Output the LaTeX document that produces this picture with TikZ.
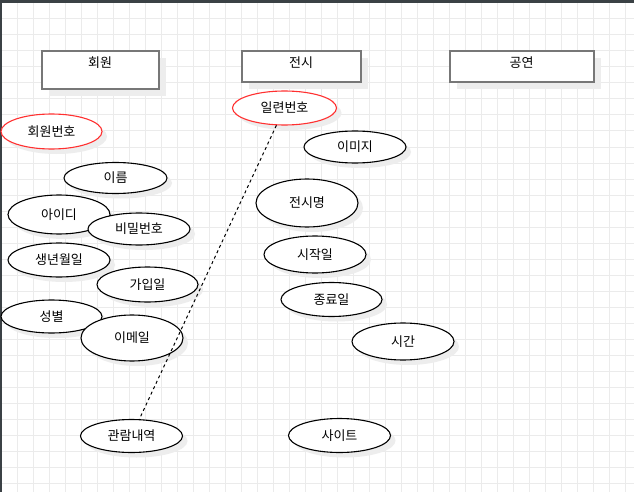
\documentclass[tikz,border=0pt]{standalone}
\usepackage{fontspec}
\setmainfont{Noto Sans CJK KR}
\usepackage{tikz}
\usetikzlibrary{shapes.geometric,shadows}

\definecolor{gridgray}{HTML}{EBEBEB}
\definecolor{shadegray}{HTML}{EDEDED}
\definecolor{boxgray}{HTML}{777777}
\definecolor{keyred}{HTML}{FF3030}
\definecolor{topbar}{HTML}{3B4145}

\begin{document}
\begin{tikzpicture}[
    x=1pt, y=-1pt,
    font=\fontsize{13}{15}\selectfont,
    gridline/.style={draw=gridgray, line width=1pt},
    entity/.style={draw=boxgray, line width=2pt, fill=white, inner sep=0pt, text height=16pt,
      general shadow={shadow xshift=7pt, shadow yshift=-7pt, fill=shadegray}},
    attr/.style={ellipse, draw, line width=1.1pt, fill=white, inner sep=0pt, minimum width=102pt, minimum height=34pt,
      general shadow={shadow xshift=5pt, shadow yshift=-5pt, fill=shadegray}},
    keyattr/.style={attr, draw=keyred},
    link/.style={dash pattern=on 3pt off 3pt, line width=1pt}
  ]
    \useasboundingbox (0,0) rectangle (634,492);
    \fill[white] (0,0) rectangle (634,492);
    \foreach \gx in {1,17,...,633} \draw[gridline] (\gx,0) -- (\gx,492);
    \foreach \gy in {3,19,...,491} \draw[gridline] (0,\gy) -- (634,\gy);
    \fill[topbar] (0,0) rectangle (634,3);
    \fill[topbar] (0,0) rectangle (1.5,492);

    % entities
    \node[entity, minimum width=117pt, text depth=22pt] (member) at (100,70.5) {회원};
    \node[entity, minimum width=119pt, text depth=15pt] (exhibit) at (301,67) {전시};
    \node[entity, minimum width=144pt, text depth=15pt] (show) at (521.5,67) {공연};

    % member attributes
    \node[keyattr, minimum width=101pt, minimum height=35pt] (memberno) at (51.5,131.5) {회원번호};
    \node[attr, minimum width=103pt, minimum height=31pt] (name) at (115.5,178) {이름};
    \node[attr, minimum height=39pt] (userid) at (59,214.5) {아이디};
    \node[attr, minimum height=32pt] (passwd) at (139,229) {비밀번호};
    \node[attr] (birth) at (59,260) {생년월일};
    \node[attr, minimum width=101pt, minimum height=35pt] (joined) at (147.5,284.5) {가입일};
    \node[attr, minimum width=101pt, minimum height=33pt] (gender) at (51.5,316.5) {성별};
    \node[attr, minimum height=46pt] (email) at (132,338) {이메일};
    \node[attr, minimum height=33pt] (viewlog) at (131.5,436) {관람내역};

    % exhibition attributes
    \node[keyattr, minimum width=104pt] (serial) at (284.5,108) {일련번호};
    \node[attr, minimum height=32pt] (image) at (355,147) {이미지};
    \node[attr, minimum height=48pt] (title) at (307,203) {전시명};
    \node[attr, minimum height=37pt] (start) at (315,254.5) {시작일};
    \node[attr, minimum width=101pt] (finish) at (331.5,299.5) {종료일};
    \node[attr, minimum height=37pt] (time) at (403,341.5) {시간};
    \node[attr] (site) at (339.5,435.5) {사이트};

    \draw[link] (serial) -- (viewlog);
  \end{tikzpicture}
\end{document}
